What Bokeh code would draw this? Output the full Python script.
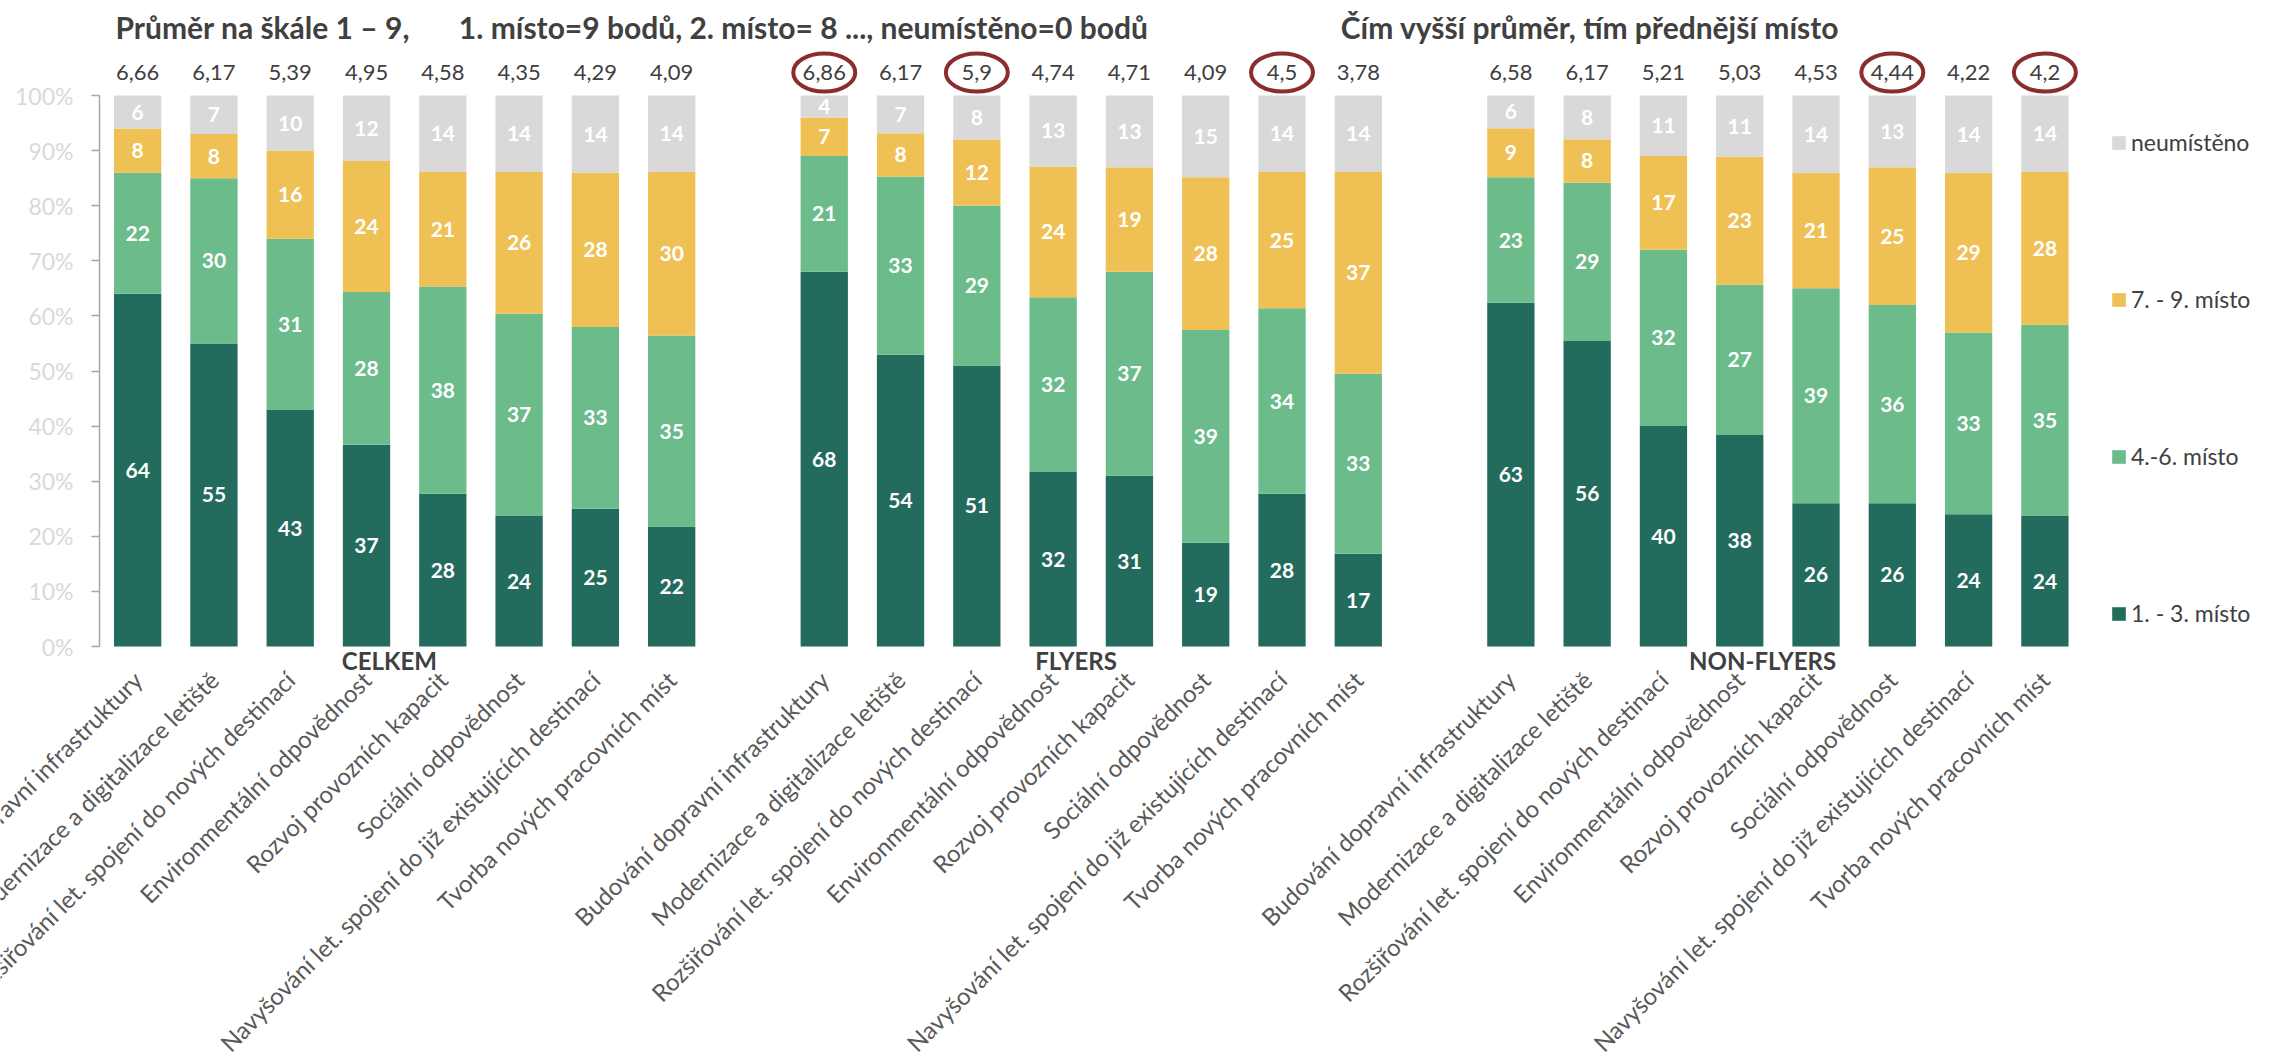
import numpy as np
from bokeh.plotting import figure
from bokeh.models import ColumnDataSource, FixedTicker, Range1d, Legend, LegendItem
from bokeh.core.properties import value
from bokeh.embed import file_html
from bokeh.resources import INLINE

# ---------------- data ----------------
categories = [
    "Budování dopravní infrastruktury",
    "Modernizace a digitalizace letiště",
    "Rozšiřování let. spojení do nových destinací",
    "Environmentální odpovědnost",
    "Rozvoj provozních kapacit",
    "Sociální odpovědnost",
    "Navyšování let. spojení do již existujících destinací",
    "Tvorba nových pracovních míst",
]
groups = ["CELKEM", "FLYERS", "NON-FLYERS"]
series_names = ["1. - 3. místo", "4.-6. místo", "7. - 9. místo", "neumístěno"]

celkem_1_3 = [64, 55, 43, 37, 28, 24, 25, 22]
celkem_4_6 = [22, 30, 31, 28, 38, 37, 33, 35]
celkem_7_9 = [8, 8, 16, 24, 21, 26, 28, 30]
celkem_none = [6, 7, 10, 12, 14, 14, 14, 14]
celkem_mean = [6.66, 6.17, 5.39, 4.95, 4.58, 4.35, 4.29, 4.09]

flyers_1_3 = [68, 54, 51, 32, 31, 19, 28, 17]
flyers_4_6 = [21, 33, 29, 32, 37, 39, 34, 33]
flyers_7_9 = [7, 8, 12, 24, 19, 28, 25, 37]
flyers_none = [4, 7, 8, 13, 13, 15, 14, 14]
flyers_mean = [6.86, 6.17, 5.9, 4.74, 4.71, 4.09, 4.5, 3.78]

nonfl_1_3 = [63, 56, 40, 38, 26, 26, 24, 24]
nonfl_4_6 = [23, 29, 32, 27, 39, 36, 33, 35]
nonfl_7_9 = [9, 8, 17, 23, 21, 25, 29, 28]
nonfl_none = [6, 8, 11, 11, 14, 13, 14, 14]
nonfl_mean = [6.58, 6.17, 5.21, 5.03, 4.53, 4.44, 4.22, 4.2]

# means that are circled in the original
circled = {"FLYERS": [0, 2, 6], "NON-FLYERS": [5, 7]}

title_left = "Průměr na škále 1 – 9,"
title_mid = "1. místo=9 bodů, 2. místo= 8 ..., neumístěno=0 bodů"
title_right = "Čím vyšší průměr, tím přednější místo"

y_ticks = list(range(0, 101, 10))

# ---------------- styling ----------------
COLORS = ["#236B5D", "#6BBB8B", "#EFC155", "#D9D9D9"]
FONT = "Lato"
DARK_TEXT = "#404040"
LABEL_TEXT = "#595959"

series_by_group = {
    "CELKEM": [celkem_1_3, celkem_4_6, celkem_7_9, celkem_none, celkem_mean],
    "FLYERS": [flyers_1_3, flyers_4_6, flyers_7_9, flyers_none, flyers_mean],
    "NON-FLYERS": [nonfl_1_3, nonfl_4_6, nonfl_7_9, nonfl_none, nonfl_mean],
}

xs, segs, means, circ, cats = [], [[], [], [], []], [], [], []
for g, name in enumerate(groups):
    s = series_by_group[name]
    for i in range(len(categories)):
        xs.append(g * 9 + i)
        cats.append(categories[i])
        for k in range(4):
            segs[k].append(s[k][i])
        means.append(s[4][i])
        circ.append(i in circled.get(name, []))

segs = np.array(segs, dtype=float)
totals = segs.sum(axis=0)
norm = segs / totals * 100.0
tops = np.cumsum(norm, axis=0)
bottoms = tops - norm

# ---------------- geometry ----------------
W, H = 2266, 1060
SLOT = 76.29          # px per category slot
PX_PER_PCT = 5.51     # px per percent
AXIS_X = 99           # px of the y axis line
ZERO_Y = 646          # px of 0 %

x0 = -0.5 - AXIS_X / SLOT
y0 = (ZERO_Y - H) / PX_PER_PCT

def ypx(py):
    return (ZERO_Y - py) / PX_PER_PCT

p = figure(
    width=W, height=H,
    x_range=Range1d(x0, x0 + W / SLOT),
    y_range=Range1d(y0, y0 + H / PX_PER_PCT),
    output_backend="svg", toolbar_location=None, x_axis_location=None,
    min_border_left=0, min_border_right=0, min_border_top=0, min_border_bottom=0,
)
p.outline_line_color = None
p.grid.grid_line_color = None

renderers = []
for k in range(4):
    src = ColumnDataSource(dict(x=xs, top=tops[k], bottom=bottoms[k],
                                mid=(tops[k] + bottoms[k]) / 2,
                                lab=[str(int(v)) for v in segs[k]]))
    r = p.vbar(x="x", top="top", bottom="bottom", width=0.62, source=src,
               fill_color=COLORS[k], line_color=None)
    renderers.append(r)
    p.text(x="x", y="mid", text="lab", source=src, text_align="center",
           text_baseline="middle", text_color="white", text_font=value(FONT),
           text_font_style="bold", text_font_size="21px")

# mean values
mean_y = ypx(72)
msrc = ColumnDataSource(dict(x=xs, y=[mean_y] * len(xs),
                             t=[("%g" % m).replace(".", ",") for m in means]))
p.text(x="x", y="y", text="t", source=msrc, text_align="center",
       text_baseline="middle", text_color=DARK_TEXT, text_font=value(FONT),
       text_font_size="22px")

cx = [x for x, c in zip(xs, circ) if c]
p.ellipse(x=cx, y=[mean_y] * len(cx), width=62, height=38, width_units="screen",
          height_units="screen", fill_color=None, line_color="#8A2D30", line_width=4)

# titles
title_y = ypx(26)
for txt, xl in [(title_left, -0.29), (title_mid, 4.21), (title_right, 15.77)]:
    p.text(x=[xl], y=[title_y], text=[txt], text_align="left", text_baseline="middle",
           text_color=DARK_TEXT, text_font=value(FONT), text_font_style="bold",
           text_font_size="30px")

# group labels under bars
p.text(x=[g * 9 + 3.3 for g in range(3)], y=[ypx(660)] * 3, text=groups,
       text_align="center", text_baseline="middle", text_color=DARK_TEXT,
       text_font=value(FONT), text_font_style="bold", text_font_size="24px")

# rotated category labels
csrc = ColumnDataSource(dict(x=xs, y=[ypx(675)] * len(xs), t=cats))
p.text(x="x", y="y", text="t", source=csrc, angle=np.pi / 4, text_align="right",
       text_baseline="middle", text_color=LABEL_TEXT, text_font=value(FONT),
       text_font_size="24px")

# y axis (drawn at the left edge of the first slot)
ya = p.yaxis[0]
ya.fixed_location = -0.5
ya.ticker = FixedTicker(ticks=y_ticks)
ya.major_label_overrides = {t: f"{t}%" for t in y_ticks}
ya.bounds = (0, 100)
ya.axis_line_color = "#A6A6A6"
ya.axis_line_width = 1.5
ya.major_tick_line_color = "#A6A6A6"
ya.major_tick_line_width = 1.5
ya.major_tick_out = 8
ya.major_tick_in = 0
ya.minor_tick_line_color = None
ya.major_label_text_font = FONT
ya.major_label_text_font_size = "23px"
ya.major_label_text_color = "#D9D9D9"
ya.major_label_standoff = 18

legend = Legend(
    items=[LegendItem(label=series_names[k], renderers=[renderers[k]]) for k in [3, 2, 1, 0]],
    location=(2110, H - 627), orientation="vertical",
    glyph_width=17, glyph_height=17, label_standoff=4, spacing=129,
    padding=0, margin=0, border_line_color=None, background_fill_alpha=0,
    label_text_font=FONT, label_text_font_size="23px", label_text_color=DARK_TEXT,
    label_height=24,
)
p.add_layout(legend, "center")

open("out.html", "w").write(file_html(p, INLINE))
